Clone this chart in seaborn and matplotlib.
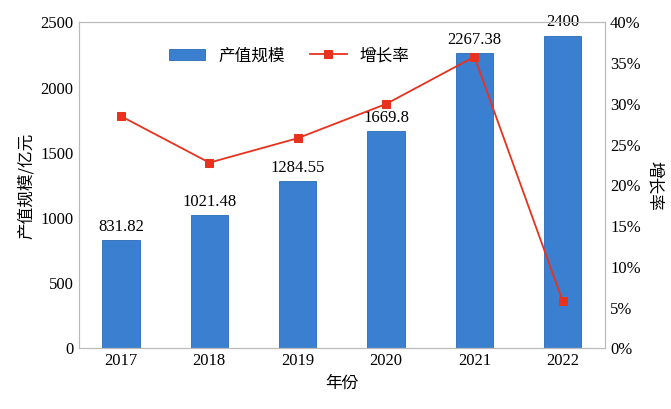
import matplotlib
matplotlib.use("Agg")
import matplotlib.pyplot as plt
import seaborn as sns
import pandas as pd

years = ["2017", "2018", "2019", "2020", "2021", "2022"]
output_value = [831.82, 1021.48, 1284.55, 1669.8, 2267.38, 2400]
growth_rate = [28.5, 22.8, 25.8, 30.0, 35.8, 5.8]
value_labels = ["831.82", "1021.48", "1284.55", "1669.8", "2267.38", "2400"]

df = pd.DataFrame({"year": years, "value": output_value, "rate": growth_rate})

plt.rcParams["font.family"] = ["Noto Sans CJK SC", "Noto Sans CJK JP", "Noto Sans CJK TC", "DejaVu Sans"]
cjk = ["Noto Sans CJK SC", "Noto Sans CJK JP", "Noto Sans CJK TC"]
serif = "Liberation Serif"

fig = plt.figure(figsize=(6.71, 4.09), dpi=100)
ax = fig.add_axes([0.117, 0.148, 0.785, 0.797])
sns.barplot(data=df, x="year", y="value", color="#3b80d0", width=0.42,
            saturation=1, ax=ax, label="产值规模", edgecolor="#2a6ab5", linewidth=0.6)
ax.set_ylim(0, 2500)
ax.set_yticks(range(0, 2501, 500))
for i, (v, t) in enumerate(zip(output_value, value_labels)):
    ax.text(i, v + 40, t, ha="center", va="bottom", fontsize=12, fontfamily=serif)

ax2 = ax.twinx()
sns.lineplot(data=df, x="year", y="rate", color="#e8321e", marker="s",
             markersize=6, markeredgecolor="#e8321e", linewidth=1.3, ax=ax2, label="增长率")
ax2.set_ylim(0, 40)
ax2.set_yticks(range(0, 41, 5))
ax2.set_yticklabels([f"{v}%" for v in range(0, 41, 5)])

for a in (ax, ax2):
    for lab in a.get_xticklabels() + a.get_yticklabels():
        lab.set_fontfamily(serif)
        lab.set_fontsize(12)
    a.tick_params(length=0)
    for s in a.spines.values():
        s.set_color("#bbbbbb")
        s.set_linewidth(0.8)

ax.set_xlabel("年份", fontfamily=cjk, fontsize=12)
ax.set_ylabel("产值规模/亿元", fontfamily=cjk, fontsize=12)
ax2.set_ylabel("增长率", fontfamily=cjk, fontsize=12, rotation=270, labelpad=16)
ax2.set_xlabel("")

h1, l1 = ax.get_legend_handles_labels()
h2, l2 = ax2.get_legend_handles_labels()
if ax.get_legend(): ax.get_legend().remove()
ax2.legend(h1 + h2, l1 + l2, loc="upper center", bbox_to_anchor=(0.4, 0.97), ncol=2,
           frameon=False, prop={"family": cjk, "size": 12}, handlelength=2.2, columnspacing=1.5)

fig.savefig("out.png", dpi=100)
